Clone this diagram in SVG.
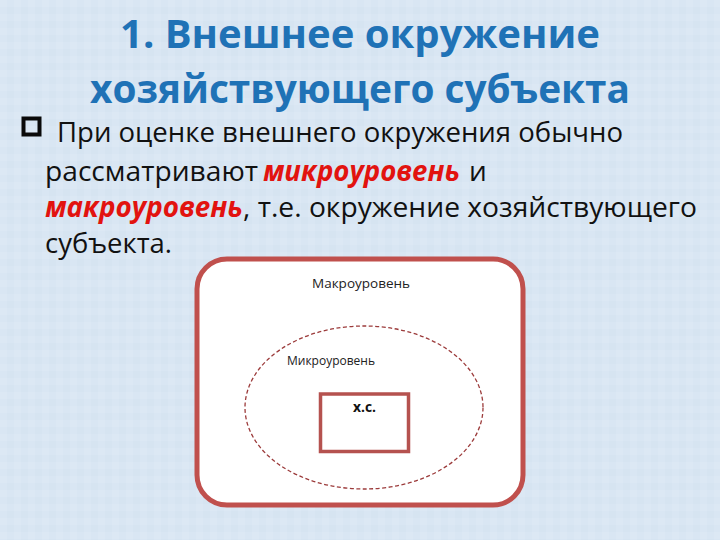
<svg xmlns="http://www.w3.org/2000/svg" width="720" height="540" viewBox="0 0 720 540">
  <defs>
    <style>
      .title { font-family: "Open Sans", "Liberation Sans", sans-serif; font-weight: bold; font-size: 40px; fill: #1f72b6; text-anchor: middle; }
      .body { font-family: "Open Sans", "Liberation Sans", sans-serif; font-size: 28px; fill: #111111; }
      .em { font-weight: bold; font-style: italic; fill: #e2130f; }
      .lbl { font-family: "Open Sans", "Liberation Sans", sans-serif; font-size: 13px; fill: #222222; }
      .lblb { font-family: "Open Sans", "Liberation Sans", sans-serif; font-size: 15px; font-weight: bold; fill: #111111; text-anchor: middle; }
    </style>
    <pattern id="tex" width="14" height="14" patternUnits="userSpaceOnUse">
      <rect width="14" height="14" fill="#d9e6f3"/>
      <rect x="0" y="0" width="7" height="7" fill="#dce8f4"/>
      <rect x="7" y="7" width="7" height="7" fill="#d6e4f1"/>
    </pattern>
  </defs>
  <rect x="0" y="0" width="720" height="540" fill="url(#tex)"/>

  <g id="title">
    <text class="title" x="360" y="48" textLength="480" lengthAdjust="spacingAndGlyphs">1. Внешнее окружение</text>
    <text class="title" x="360" y="103" textLength="540" lengthAdjust="spacingAndGlyphs">хозяйствующего субъекта</text>
  </g>

  <g id="bullet-text">
    <rect x="23.5" y="118.5" width="16" height="16" fill="none" stroke="#0a0a0a" stroke-width="4"/>
    <text class="body" x="57" y="142" textLength="566" lengthAdjust="spacingAndGlyphs">При оценке внешнего окружения обычно</text>
    <text class="body" y="181"><tspan x="45" textLength="213" lengthAdjust="spacingAndGlyphs">рассматривают</tspan><tspan class="em" x="263" textLength="197" lengthAdjust="spacingAndGlyphs">микроуровень</tspan><tspan x="469">и</tspan></text>
    <text class="body" y="217"><tspan class="em" x="45" textLength="198" lengthAdjust="spacingAndGlyphs">макроуровень</tspan><tspan x="243" textLength="454" lengthAdjust="spacingAndGlyphs">, т.е. окружение хозяйствующего</tspan></text>
    <text class="body" x="45" y="253" textLength="127" lengthAdjust="spacingAndGlyphs">субъекта.</text>
  </g>

  <g id="macro">
    <rect x="197" y="259" width="326" height="246" rx="30" ry="30" fill="#ffffff" stroke="#c0504d" stroke-width="5"/>
    <text class="lbl" x="312" y="288" textLength="98" lengthAdjust="spacingAndGlyphs">Макроуровень</text>
  </g>

  <g id="micro">
    <ellipse cx="364" cy="407.5" rx="119" ry="81.5" fill="#ffffff" stroke="#9c3b3b" stroke-width="1.3" stroke-dasharray="4,2.5"/>
    <text class="lbl" x="287" y="365" textLength="88" lengthAdjust="spacingAndGlyphs">Микроуровень</text>
  </g>

  <g id="hs">
    <rect x="320.5" y="394" width="88" height="57.5" fill="#ffffff" stroke="#b5524f" stroke-width="3.5"/>
    <text class="lblb" x="364.5" y="412" textLength="23" lengthAdjust="spacingAndGlyphs">х.с.</text>
  </g>
</svg>
